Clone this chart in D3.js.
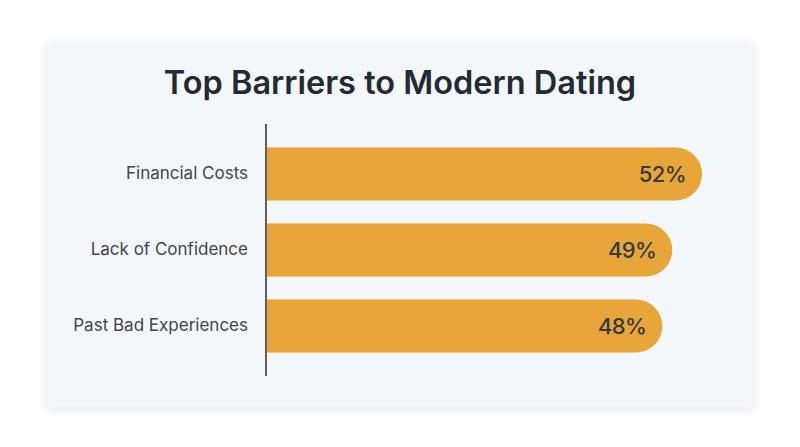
<!DOCTYPE html>
<html>
<head>
<meta charset="utf-8">
<script src="https://cdn.jsdelivr.net/npm/d3@7"></script>
<style>
  html, body { margin: 0; padding: 0; background: #ffffff; }
  body { width: 800px; height: 447px; overflow: hidden; font-family: Inter, "Noto Sans", sans-serif; }
</style>
</head>
<body>
<svg id="chart" width="800" height="447"></svg>
<script>
const title = "Top Barriers to Modern Dating";
const categories = ["Financial Costs", "Lack of Confidence", "Past Bad Experiences"];
const values = [52, 49, 48];
const valueLabels = ["52%", "49%", "48%"];
const xDomain = [8, 52];

const svg = d3.select("#chart");
const defs = svg.append("defs");
const f = defs.append("filter").attr("id", "shadow").attr("x", "-10%").attr("y", "-10%").attr("width", "120%").attr("height", "130%");
f.append("feDropShadow").attr("dx", 0).attr("dy", 3).attr("stdDeviation", 4).attr("flood-color", "#000").attr("flood-opacity", 0.08);

const card = { x: 45, y: 41, w: 710, h: 366 };
svg.append("rect")
  .attr("x", card.x).attr("y", card.y).attr("width", card.w).attr("height", card.h)
  .attr("rx", 7).attr("fill", "#f4f7f9").attr("filter", "url(#shadow)");

svg.append("text")
  .attr("x", 400).attr("y", 94)
  .attr("text-anchor", "middle")
  .attr("font-size", 32.5).attr("font-weight", 600)
  .attr("fill", "#232a33")
  .text(title);

const x = d3.scaleLinear().domain(xDomain).range([266, 702]);
const y = d3.scaleBand().domain(categories).range([136, 364]).paddingInner(0.3).paddingOuter(0.15);

const bh = y.bandwidth();
const r = bh / 2;

const g = svg.append("g");
g.selectAll("path.bar").data(categories).join("path")
  .attr("class", "bar")
  .attr("fill", "#e8a539")
  .attr("d", (c, i) => {
    const x0 = x.range()[0], x1 = x(values[i]), y0 = y(c), y1 = y0 + bh;
    return `M${x0},${y0} H${x1 - r} A${r},${r} 0 0 1 ${x1 - r},${y1} H${x0} Z`;
  });

// y axis line
const yAxis = d3.axisLeft(y).tickSize(0).tickPadding(18);
const ax = svg.append("g").attr("transform", `translate(266,0)`).call(yAxis);
ax.select(".domain").attr("d", "M0,124V376").attr("stroke", "#5a5f66").attr("stroke-width", 2);
ax.selectAll(".tick text")
  .attr("font-family", "Inter, sans-serif")
  .attr("font-size", 17).attr("fill", "#40464e");

g.selectAll("text.val").data(categories).join("text")
  .attr("class", "val")
  .attr("x", (c, i) => x(values[i]) - 16)
  .attr("y", c => y(c) + bh / 2)
  .attr("dy", "0.36em")
  .attr("text-anchor", "end")
  .attr("font-size", 22).attr("font-weight", 500)
  .attr("letter-spacing", -0.6)
  .attr("fill", "#333a42")
  .text((c, i) => valueLabels[i]);
</script>
</body>
</html>
